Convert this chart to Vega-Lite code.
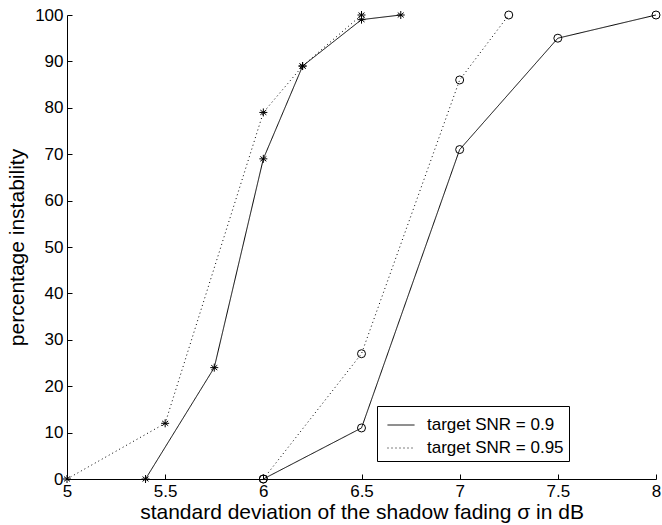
{
  "$schema": "https://vega.github.io/schema/vega-lite/v6.json",
  "width": 589,
  "height": 464,
  "autosize": {"type": "none"},
  "padding": {"left": 67, "top": 15, "right": 6, "bottom": 46},
  "background": "white",
  "config": {
    "view": {"stroke": null},
    "font": "Liberation Sans",
    "axis": {
      "domainColor": "black",
      "tickColor": "black",
      "labelColor": "black",
      "titleColor": "black",
      "labelFont": "Liberation Sans",
      "titleFont": "Liberation Sans",
      "labelFontSize": 17,
      "titleFontSize": 21,
      "titleFontWeight": "normal",
      "grid": false,
      "tickSize": -5
    }
  },
  "data": {
    "values": [
      {"snr": "target SNR = 0.9", "marker": "star", "grp": "a", "x": 5.4, "y": 0},
      {"snr": "target SNR = 0.9", "marker": "star", "grp": "a", "x": 5.75, "y": 24},
      {"snr": "target SNR = 0.9", "marker": "star", "grp": "a", "x": 6.0, "y": 69},
      {"snr": "target SNR = 0.9", "marker": "star", "grp": "a", "x": 6.2, "y": 89},
      {"snr": "target SNR = 0.9", "marker": "star", "grp": "a", "x": 6.5, "y": 99},
      {"snr": "target SNR = 0.9", "marker": "star", "grp": "a", "x": 6.7, "y": 100},
      {"snr": "target SNR = 0.95", "marker": "star", "grp": "b", "x": 5.0, "y": 0},
      {"snr": "target SNR = 0.95", "marker": "star", "grp": "b", "x": 5.5, "y": 12},
      {"snr": "target SNR = 0.95", "marker": "star", "grp": "b", "x": 6.0, "y": 79},
      {"snr": "target SNR = 0.95", "marker": "star", "grp": "b", "x": 6.2, "y": 89},
      {"snr": "target SNR = 0.95", "marker": "star", "grp": "b", "x": 6.5, "y": 100},
      {"snr": "target SNR = 0.9", "marker": "circle", "grp": "c", "x": 6.0, "y": 0},
      {"snr": "target SNR = 0.9", "marker": "circle", "grp": "c", "x": 6.5, "y": 11},
      {"snr": "target SNR = 0.9", "marker": "circle", "grp": "c", "x": 7.0, "y": 71},
      {"snr": "target SNR = 0.9", "marker": "circle", "grp": "c", "x": 7.5, "y": 95},
      {"snr": "target SNR = 0.9", "marker": "circle", "grp": "c", "x": 8.0, "y": 100},
      {"snr": "target SNR = 0.95", "marker": "circle", "grp": "d", "x": 6.0, "y": 0},
      {"snr": "target SNR = 0.95", "marker": "circle", "grp": "d", "x": 6.5, "y": 27},
      {"snr": "target SNR = 0.95", "marker": "circle", "grp": "d", "x": 7.0, "y": 86},
      {"snr": "target SNR = 0.95", "marker": "circle", "grp": "d", "x": 7.25, "y": 100}
    ]
  },
  "encoding": {
    "x": {
      "field": "x", "type": "quantitative",
      "scale": {"domain": [5, 8], "nice": false, "zero": false},
      "axis": {
        "values": [5, 5.5, 6, 6.5, 7, 7.5, 8],
        "labelExpr": "'' + datum.value",
        "labelPadding": 9,
        "labelFlush": false,
        "title": "standard deviation of the shadow fading σ in dB",
        "titlePadding": 2
      }
    },
    "y": {
      "field": "y", "type": "quantitative",
      "scale": {"domain": [0, 100], "nice": false},
      "axis": {
        "values": [0, 10, 20, 30, 40, 50, 60, 70, 80, 90, 100],
        "labelPadding": 9,
        "labelFlush": false,
        "title": "percentage instability",
        "titlePadding": 7
      }
    }
  },
  "layer": [
    {
      "mark": {"type": "line", "color": "black", "strokeWidth": 1},
      "encoding": {
        "detail": {"field": "grp"},
        "strokeDash": {
          "field": "snr", "type": "nominal",
          "scale": {"domain": ["target SNR = 0.9", "target SNR = 0.95"], "range": [[1, 0], [1, 3]]},
          "legend": {
            "title": null,
            "orient": "none",
            "legendX": 310,
            "legendY": 391,
            "symbolType": "stroke",
            "symbolSize": 729,
            "symbolStrokeColor": "black",
            "symbolStrokeWidth": 1,
            "symbolOffset": 5,
            "labelFontSize": 17,
            "labelColor": "black",
            "labelFont": "Liberation Sans",
            "labelOffset": 12,
            "strokeColor": "black",
            "fillColor": "white",
            "padding": 5,
            "rowPadding": 1
          }
        },
        "strokeWidth": {
          "field": "grp", "type": "nominal",
          "scale": {"domain": ["a", "b", "c", "d"], "range": [1.5, 1, 1, 1]},
          "legend": null
        }
      }
    },
    {
      "mark": {"type": "point", "filled": false, "stroke": "black", "strokeWidth": 1, "opacity": 1},
      "encoding": {
        "shape": {
          "field": "marker", "type": "nominal",
          "scale": {"domain": ["star", "circle"], "range": ["M0,-1L0,1M-1,0L1,0M-0.75,-0.6L0.75,0.6M-0.75,0.6L0.75,-0.6", "circle"]},
          "legend": null
        },
        "size": {"value": 64}
      }
    }
  ]
}
